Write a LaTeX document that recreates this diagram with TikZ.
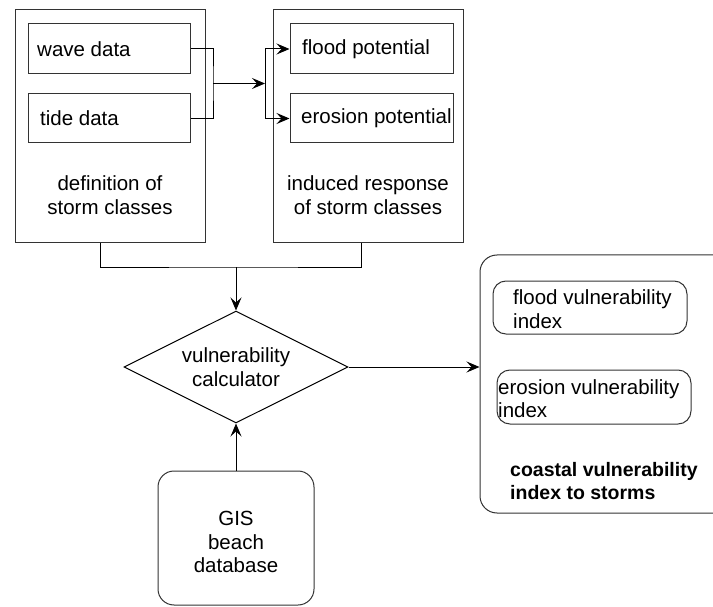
\documentclass[tikz,border=0pt]{standalone}
\usepackage{fontspec}
\setmainfont{Liberation Sans}
\usetikzlibrary{arrows.meta,shapes.geometric}
\newcommand{\diagfont}{\fontsize{20.5}{23.5}\selectfont}
\begin{document}
\begin{tikzpicture}[x=1pt, y=-1pt,
  every node/.style={font=\diagfont, inner sep=0pt},
  frame/.style={draw=black!80, line width=1pt, rectangle},
  rframe/.style={frame, rounded corners=#1},
  conn/.style={draw=black, line width=1pt},
  arr/.style={conn, -{Stealth[length=13pt, width=11pt, inset=5pt]}},
]
\useasboundingbox (0,0) rectangle (713,607);
\clip (0,0) rectangle (713,607);

% definition of storm classes
\node[frame, minimum width=190pt, minimum height=233pt] (defbox) at (110,126.5) {};
\node[frame, minimum width=162pt, minimum height=50pt] (wave) at (109,49) {};
\node[frame, minimum width=162pt, minimum height=49pt] (tide) at (109,118.5) {};
\node[anchor=west] (wavet) at (37,49) {wave data};
\node[anchor=west] (tidet) at (40,118.5) {tide data};
\node[align=center] (deft) at (110,195) {definition of\\storm classes};

% induced response of storm classes
\node[frame, minimum width=190pt, minimum height=233pt] (resbox) at (368,126.5) {};
\node[frame, minimum width=163pt, minimum height=50pt] (flood) at (371.5,49) {};
\node[frame, minimum width=163pt, minimum height=49pt] (erosion) at (371.5,118.5) {};
\node[anchor=west] (floodt) at (302,49) {flood potential};
\node[anchor=west] (erosiont) at (301,118.5) {erosion potential};
\node[align=center] (rest) at (368,195) {induced response\\of storm classes};

% calculator and GIS input
\node[diamond, shape aspect=2, draw=black, line width=1pt, minimum width=224pt,
      minimum height=112pt, align=center] (calc) at (236,367) {vulnerability\\calculator};
\node[rframe=16pt, minimum width=156pt, minimum height=134pt] (gis) at (236,538) {};
\node[align=center] (gist) at (236,542) {GIS\\beach\\database};

% vulnerability indices
\node[rframe=17pt, minimum width=260pt, minimum height=258pt] (vidx) at (610,384) {};
\node[rframe=13pt, minimum width=194pt, minimum height=53pt] (floodvi) at (590,307.5) {};
\node[anchor=west, align=left] (floodvit) at (513,309) {flood vulnerability\\index};
\node[rframe=13pt, minimum width=194pt, minimum height=54pt] (erosvi) at (594,397) {};
\node[anchor=west, align=left] (erosvit) at (498,398.5) {erosion vulnerability\\index};
\node[anchor=west, align=left, font=\bfseries\fontsize{19.5}{22.5}\selectfont] (cvi) at (510,481)
  {coastal vulnerability\\index to storms};

% connectors
\coordinate (j1) at (213,83.5);
\coordinate (j2) at (265,83.5);
\draw[conn] (wave.east) -| (j1) |- (tide.east);
\draw[arr] (j1) -- (j2);
\draw[arr] (j2) |- (flood.west);
\draw[arr] (j2) |- (erosion.west);

\coordinate (j3) at (236,267);
\draw[conn] ([xshift=-10pt]defbox.south) |- (j3) -| ([xshift=-7pt]resbox.south);
\draw[arr] (j3) -- (calc.north);
\draw[arr] (gis.north) -- (calc.south);
\draw[arr] (calc.east) -- (calc.east -| vidx.west);
\end{tikzpicture}
\end{document}
